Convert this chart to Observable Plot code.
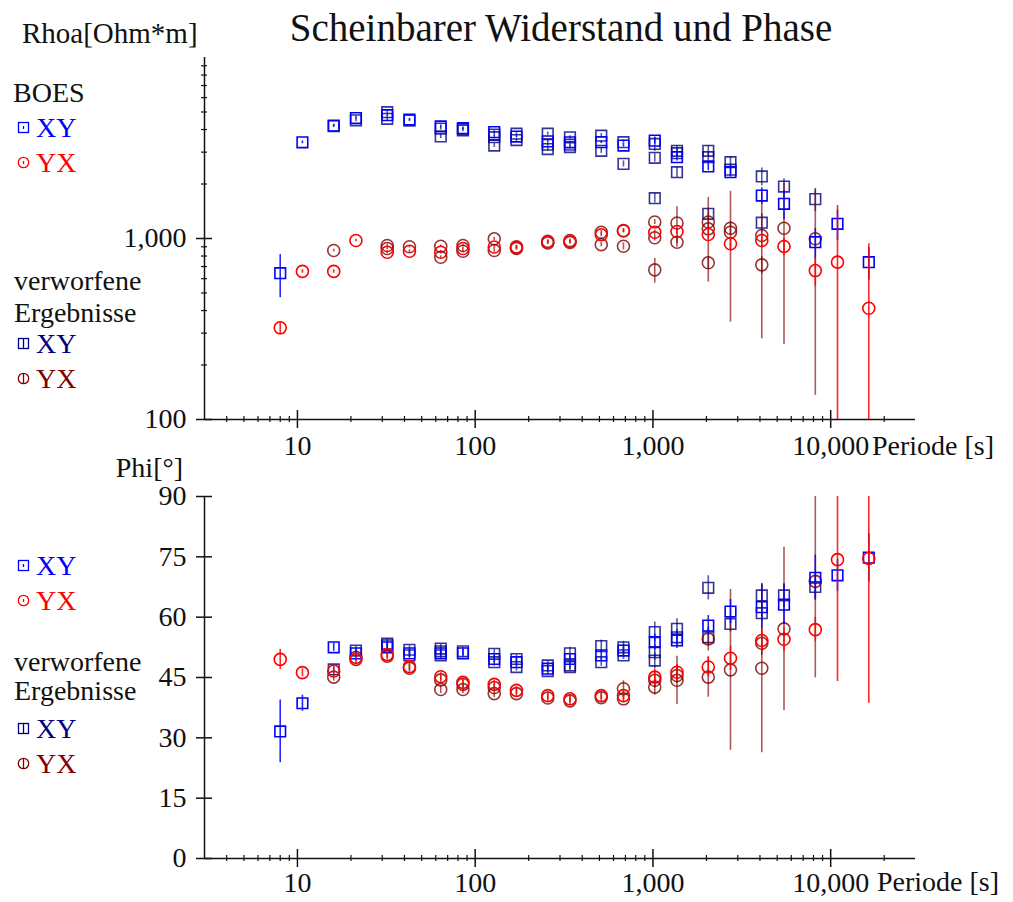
<!DOCTYPE html>
<html>
<head>
<meta charset="utf-8">
<script src="https://cdn.jsdelivr.net/npm/d3@7"></script>
<script src="https://cdn.jsdelivr.net/npm/@observablehq/plot@0.6"></script>
<style>
html,body{margin:0;padding:0;background:#fff;}
#wrap{position:relative;width:1013px;height:902px;overflow:hidden;font-family:"Liberation Serif","Times New Roman",serif;}
#top,#bot{position:absolute;left:0;}
#top{top:0;}
#bot{top:470px;}
#overlay{position:absolute;left:0;top:0;pointer-events:none;font-family:"Liberation Serif","Times New Roman",serif;}
</style>
</head>
<body>
<div id="wrap">
  <div id="top"></div>
  <div id="bot"></div>
  <svg id="overlay" width="1013" height="902"></svg>
</div>
<script>
// ---------------- data ----------------
const periods = [8, 10.667, 16, 21.333, 32, 42.667, 64, 85.333, 128, 170.667, 256, 341.333, 512, 682.667, 1024, 1365.333, 2048, 2730.667, 4096, 5461.333, 8192, 10922.667, 16384];

// accepted (BOES) apparent resistivity
const rhoXY    = [643, 3400, 4200, 4630, 4800, 4540, 4160, 4066, 3870, 3660, 3440, 3400, 3404, 3264, 3474, 2813, 2500, 2325, 1727, 1555, 954, 1205, 740];
const rhoXYErr = [172, 60, 80, 90, 120, 70, 80, 60, 70, 60, 60, 50, 60, 60, 150, 130, 130, 140, 180, 280, 180, 230, 150];
const rhoYX    = [321, 658, 658, 975, 840, 850, 840, 880, 897, 890, 957, 960, 1048, 1100, 1083, 1093, 1052, 935, 975, 904, 665, 740, 412];
const rhoYXErr = [25, 15, 15, 15, 15, 15, 20, 15, 20, 20, 20, 20, 25, 25, 30, 40, 60, 80, 90, 100, 120, 783, 523];

// accepted (BOES) phase
const phiXY    = [31.6, 38.6, 52.5, 51.0, 52.5, 51.0, 51.0, 51.0, 49.6, 48.8, 47.2, 49.6, 50.5, 51.7, 53.8, 54.2, 57.9, 61.4, 62.5, 63.1, 69.8, 70.4, 74.8];
const phiXYErr = [7.8, 2, 1, 1, 1, 1, 1, 1, 1, 1, 1, 1, 1.2, 1.5, 2, 2, 2.5, 3, 5.5, 5, 5.6, 4, 6];
const phiYX    = [49.5, 46.2, 46.6, 49.5, 50.7, 47.7, 45.2, 43.8, 43.3, 41.8, 40.5, 39.7, 40.5, 40.5, 45.1, 46.3, 47.6, 49.8, 54.2, 54.5, 56.9, 74.3, 74.6];
const phiYXErr = [2.5, 1, 1, 1, 1, 1, 1, 1, 1, 1, 1, 1, 1, 1, 2, 2, 2.5, 3, 3, 3, 3, 30.3, 36];

// rejected results ("verworfene Ergebnisse"), per period: [value, error]
const rejRhoXY = [
  [], [], [[4180, 60]], [[4500, 80]], [[4990, 100], [4585, 100]], [[4480, 60]],
  [[4050, 80], [3663, 100]], [[3952, 60], [4020, 60]], [[3627, 80], [3264, 80], [3750, 80]],
  [[3795, 80], [3500, 80]], [[3795, 80], [3300, 80], [3120, 80]], [[3620, 80], [3300, 80], [3200, 80]],
  [[3700, 100], [3053, 100]], [[3404, 100], [2584, 100]], [[3330, 300], [2792, 150], [1670, 100]],
  [[3053, 200], [2960, 150], [2325, 150]], [[3053, 200], [2813, 150], [1369, 100]],
  [[2640, 200], [2400, 150]], [[2202, 250], [1222, 150]], [[1937, 200]], [[1650, 240]], [], []
];
const rejRhoYX = [
  [], [], [[858, 15]], [], [[915, 15], [880, 15]], [[900, 15]],
  [[906, 15], [788, 15]], [[915, 15], [850, 15]], [[996, 20], [858, 20]],
  [[880, 20], [900, 20]], [[945, 20], [965, 20]], [[950, 20], [975, 20]],
  [[1083, 25], [925, 25]], [[1107, 30], [906, 40]], [[1234, 40], [1009, 40], [671, 105]],
  [[1218, 280], [954, 60]], [[1234, 100], [1131, 557], [734, 60]],
  [[1140, 100], [1083, 738]], [[1039, 760], [715, 80]], [[1140, 880]], [[996, 860]], [], []
];
const rejPhiXY = [
  [], [], [[47.0, 1]], [[51.7, 1]], [[53.4, 1], [53.0, 1]], [[51.9, 1], [50.5, 1]],
  [[52.2, 1], [50.5, 1], [51.5, 1]], [[51.5, 1]], [[50.9, 1], [48.8, 1]],
  [[49.6, 1], [47.6, 1]], [[48.0, 1], [46.6, 1]], [[51.0, 1.5], [48.0, 1], [47.6, 1]],
  [[52.8, 1.5], [48.8, 1]], [[52.5, 1.5], [50.5, 1]], [[56.3, 2.5], [51.3, 2], [49.2, 2]],
  [[57.1, 2.5], [55.0, 2]], [[67.3, 3], [55.0, 2]], [[58.3, 2]],
  [[65.4, 3], [61.0, 2]], [[65.4, 3]], [[67.5, 3]], [], []
];
const rejPhiYX = [
  [], [], [[45.1, 1]], [[50.0, 1]], [[50.3, 1]], [[47.3, 1]],
  [[44.4, 1], [42.0, 1]], [[43.3, 1], [42.0, 1]], [[42.5, 1], [41.0, 1]],
  [[41.0, 1]], [[39.9, 1]], [[39.2, 1]], [[40.0, 1]], [[42.2, 2], [39.7, 1]],
  [[44.3, 2], [42.6, 2]], [[45.5, 2], [44.3, 6]], [[54.6, 3], [45.1, 5]],
  [[46.9, 20]], [[53.5, 3], [47.3, 21]], [[57.1, 20.3]], [[68.9, 24]], [], []
];

// tick values
const majorX = [10, 100, 1000, 10000];
const minorX = [4, 5, 6, 7, 8, 9, 20, 30, 40, 50, 60, 70, 80, 90, 200, 300, 400, 500, 600, 700, 800, 900,
                2000, 3000, 4000, 5000, 6000, 7000, 8000, 9000, 20000];
const majorRho = [100, 1000];
const minorRho = [200, 300, 400, 500, 600, 700, 800, 900, 2000, 3000, 4000, 5000, 6000, 7000, 8000, 9000];
const phiTicks = [0, 15, 30, 45, 60, 75, 90];

// ---------------- drawing ----------------
const BLUE = "#0000ff", RED = "#ff0000", NAVY = "#000080", MAROON = "#800000", INK = "#111";
const fmt = d3.format(",");
const acc = (vals, errs) => periods.map((p, i) => ({p, v: vals[i], e: errs[i]}));
const rej = lists => lists.flatMap((l, i) => l.map(([v, e]) => ({p: periods[i], v, e})));

function series(d, symbol, color, ruleOp, dotOp, logY) {
  return [
    Plot.ruleX(d, {x: "p", y1: r => logY ? Math.max(r.v - r.e, 1) : r.v - r.e, y2: r => r.v + r.e,
      stroke: color, strokeWidth: 1.6, strokeOpacity: ruleOp, clip: true}),
    Plot.dot(d, {x: "p", y: "v", symbol, r: 6, stroke: color, strokeWidth: 1.6, strokeOpacity: dotOp, fill: "none"})
  ];
}

function xAxes(pad) {
  return [
    Plot.axisX({ticks: majorX, tickSize: 18, dy: -9, tickFormat: () => "", label: null, strokeWidth: 1.5}),
    Plot.axisX({ticks: minorX, tickSize: 6, dy: -3, tickFormat: () => "", label: null, strokeWidth: 1.2}),
    Plot.axisX({ticks: majorX, tickSize: 0, tickPadding: pad, tickFormat: fmt, label: null, fontSize: 28})
  ];
}

const style = {fontFamily: '"Liberation Serif", "Times New Roman", serif', fontSize: "28px", color: INK, background: "transparent", overflow: "visible"};

const topPlot = Plot.plot({
  width: 1013, height: 470,
  marginLeft: 204, marginRight: 98, marginTop: 57, marginBottom: 51,
  style,
  x: {type: "log", domain: [3, 30000]},
  y: {type: "log", domain: [100, 10000]},
  marks: [
    Plot.ruleY([100], {stroke: INK, strokeWidth: 1.5}),
    Plot.ruleX([3], {stroke: INK, strokeWidth: 1.5}),
    ...xAxes(16),
    Plot.axisY({ticks: majorRho, tickSize: 16, dx: 8, tickFormat: () => "", label: null, strokeWidth: 1.5}),
    Plot.axisY({ticks: minorRho, tickSize: 6, dx: 3, tickFormat: () => "", label: null, strokeWidth: 1.2}),
    Plot.axisY({ticks: majorRho, tickSize: 0, tickPadding: 18, tickFormat: fmt, label: null, fontSize: 28}),
    ...series(rej(rejRhoXY), "square", NAVY, 0.65, 0.8, true),
    ...series(rej(rejRhoYX), "circle", MAROON, 0.65, 0.8, true),
    ...series(acc(rhoXY, rhoXYErr), "square", BLUE, 0.85, 1, true),
    ...series(acc(rhoYX, rhoYXErr), "circle", RED, 0.85, 1, true)
  ]
});
document.getElementById("top").append(topPlot);

const botPlot = Plot.plot({
  width: 1013, height: 432,
  marginLeft: 204, marginRight: 98, marginTop: 26, marginBottom: 44,
  style,
  x: {type: "log", domain: [3, 30000]},
  y: {domain: [0, 90]},
  marks: [
    Plot.ruleY([0], {stroke: INK, strokeWidth: 1.5}),
    Plot.ruleX([3], {stroke: INK, strokeWidth: 1.5}),
    ...xAxes(14),
    Plot.axisY({ticks: phiTicks, tickSize: 16, dx: 8, tickFormat: () => "", label: null, strokeWidth: 1.5}),
    Plot.axisY({ticks: phiTicks, tickSize: 0, tickPadding: 18, tickFormat: d => String(d), label: null, fontSize: 28}),
    ...series(rej(rejPhiXY), "square", NAVY, 0.65, 0.8, false),
    ...series(rej(rejPhiYX), "circle", MAROON, 0.65, 0.8, false),
    ...series(acc(phiXY, phiXYErr), "square", BLUE, 0.85, 1, false),
    ...series(acc(phiYX, phiYXErr), "circle", RED, 0.85, 1, false)
  ]
});
document.getElementById("bot").append(botPlot);

// ---------------- titles & legends ----------------
const ov = d3.select("#overlay");
function txt(x, y, s, fill = INK, size = 28, anchor = "start") {
  ov.append("text").attr("x", x).attr("y", y).attr("font-size", size).attr("fill", fill)
    .attr("text-anchor", anchor).text(s);
}
function icon(base, kind, color, rejected) {
  const cx = 23.5, cy = base - 9.5;
  const g = ov.append("g").attr("stroke", color).attr("fill", "none").attr("stroke-width", 1.3);
  if (kind === "square") g.append("rect").attr("x", cx - 5).attr("y", cy - 5).attr("width", 10).attr("height", 10);
  else g.append("circle").attr("cx", cx).attr("cy", cy).attr("r", 5.2);
  const h = rejected ? 5 : 1.5;
  g.append("line").attr("x1", cx).attr("x2", cx).attr("y1", cy - h).attr("y2", cy + h);
}
function legendRow(base, label, kind, color, rejected) {
  icon(base, kind, color, rejected);
  txt(36, base, label, color);
}

txt(561, 41, "Scheinbarer Widerstand und Phase", INK, 39, "middle");
txt(22, 43, "Rhoa[Ohm*m]", INK, 29);
txt(183, 477, "Phi[°]", INK, 28, "end");
txt(872, 455, "Periode [s]");
txt(877, 891, "Periode [s]");

txt(13, 102, "BOES");
legendRow(137, "XY", "square", BLUE, false);
legendRow(172, "YX", "circle", RED, false);
txt(14, 290, "verworfene");
txt(14, 322, "Ergebnisse");
legendRow(353, "XY", "square", NAVY, true);
legendRow(388, "YX", "circle", MAROON, true);

legendRow(575, "XY", "square", BLUE, false);
legendRow(610, "YX", "circle", RED, false);
txt(14, 671, "verworfene");
txt(14, 700, "Ergebnisse");
legendRow(738, "XY", "square", NAVY, true);
legendRow(773, "YX", "circle", MAROON, true);
</script>
</body>
</html>
